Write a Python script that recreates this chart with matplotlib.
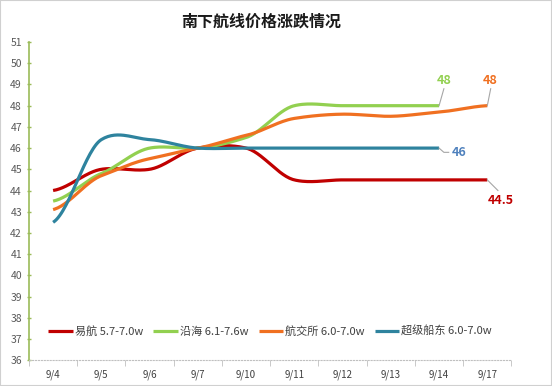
import numpy as np
import matplotlib.pyplot as plt
from matplotlib.patches import Rectangle

plt.rcParams['font.family'] = ['Noto Sans CJK SC', 'DejaVu Sans']

dates = ['9/4', '9/5', '9/6', '9/7', '9/10', '9/11', '9/12', '9/13', '9/14', '9/17']
yihang = [44, 45, 45, 46, 46, 44.5, 44.5, 44.5, 44.5, 44.5]
yanhai = [43.5, 44.8, 46, 46, 46.5, 48, 48, 48, 48]
hangjiao = [43.1, 44.7, 45.5, 46, 46.6, 47.4, 47.6, 47.5, 47.7, 48]
chaoji = [42.5, 46.4, 46.4, 46, 46, 46, 46, 46, 46]

names = ['易航 5.7-7.0w', '沿海 6.1-7.6w', '航交所 6.0-7.0w', '超级船东 6.0-7.0w']
colors = ['#c00000', '#92d050', '#f07021', '#2e839e']


def smooth(y, n=30, k=0.36):
    # cardinal spline, a bit tighter than catmull-rom so peaks don't overshoot much
    y = np.asarray(y, float)
    p = np.concatenate([[y[0]], y, [y[-1]]])
    xs, ys = [], []
    for i in range(len(y) - 1):
        t = np.linspace(0, 1, n, endpoint=False)
        p0, p1, p2, p3 = p[i], p[i + 1], p[i + 2], p[i + 3]
        m1 = k * (p2 - p0)
        m2 = k * (p3 - p1)
        h00 = 2 * t ** 3 - 3 * t ** 2 + 1
        h10 = t ** 3 - 2 * t ** 2 + t
        h01 = -2 * t ** 3 + 3 * t ** 2
        h11 = t ** 3 - t ** 2
        xs.append(i + t)
        ys.append(h00 * p1 + h10 * m1 + h01 * p2 + h11 * m2)
    xs.append([len(y) - 1])
    ys.append([y[-1]])
    return np.concatenate(xs), np.concatenate(ys)


fig = plt.figure(figsize=(5.52, 3.86), dpi=100)
fig.patches.append(Rectangle((0, 0), 1, 1, transform=fig.transFigure,
                             fill=False, edgecolor='#d0d0d0', lw=1.5))
ax = fig.add_axes([0.0525, 0.067, 0.874, 0.824])

for data, name, c in zip([yihang, yanhai, hangjiao, chaoji], names, colors):
    xs, ys = smooth(data)
    ax.plot(xs, ys, color=c, lw=2.3, label=name, solid_capstyle='butt')

# end labels with leader lines
ax.plot([8, 8.1], [48, 48.8], color='#a6a6a6', lw=0.8)
ax.text(8.1, 49.2, '48', color='#92d050', fontsize=9, fontweight='bold', ha='center', va='center')
ax.plot([9, 9.07], [48, 48.8], color='#a6a6a6', lw=0.8)
ax.text(9.07, 49.2, '48', color='#f07021', fontsize=9, fontweight='bold', ha='center', va='center')
ax.plot([8, 8.1, 8.2], [46, 45.8, 45.8], color='#a6a6a6', lw=0.8)
ax.text(8.27, 45.8, '46', color='#4f81bd', fontsize=9, fontweight='bold', ha='left', va='center')
ax.plot([9, 9.22], [44.5, 44.0], color='#a6a6a6', lw=0.8)
ax.text(9.27, 43.55, '44.5', color='#c00000', fontsize=9, fontweight='bold', ha='center', va='center')

ax.set_xlim(-0.5, len(dates) - 0.5)
ax.set_ylim(36, 51)
ax.set_yticks(range(36, 52))
ax.set_xticks(range(len(dates)))
ax.set_xticklabels(dates)
ax.set_xticks(np.arange(-0.5, len(dates), 1), minor=True)
ax.tick_params(axis='x', which='major', length=0, labelsize=7, colors='#404040', pad=7)
ax.tick_params(axis='x', which='minor', length=4, color='#c0c0c0')
ax.tick_params(axis='y', length=3, direction='inout', color='#9bbb59', labelsize=7.5,
               labelcolor='#595959', width=1)

for s in ['top', 'right']:
    ax.spines[s].set_visible(False)
ax.spines['left'].set_color('#9bbb59')
ax.spines['left'].set_linewidth(1.2)
ax.spines['bottom'].set_color('#c0c0c0')
ax.spines['bottom'].set_linestyle(':')

ax.legend(loc='center', bbox_to_anchor=(0.5, 0.09), ncol=4, frameon=False,
          fontsize=8, handlelength=2.2, columnspacing=0.9, handletextpad=0.2,
          labelcolor='#404040')

fig.text(0.473, 0.945, '南下航线价格涨跌情况', ha='center', va='center',
         fontsize=11.5, fontweight='bold', color='#1a1a1a')

fig.savefig('out.png', dpi=100)
